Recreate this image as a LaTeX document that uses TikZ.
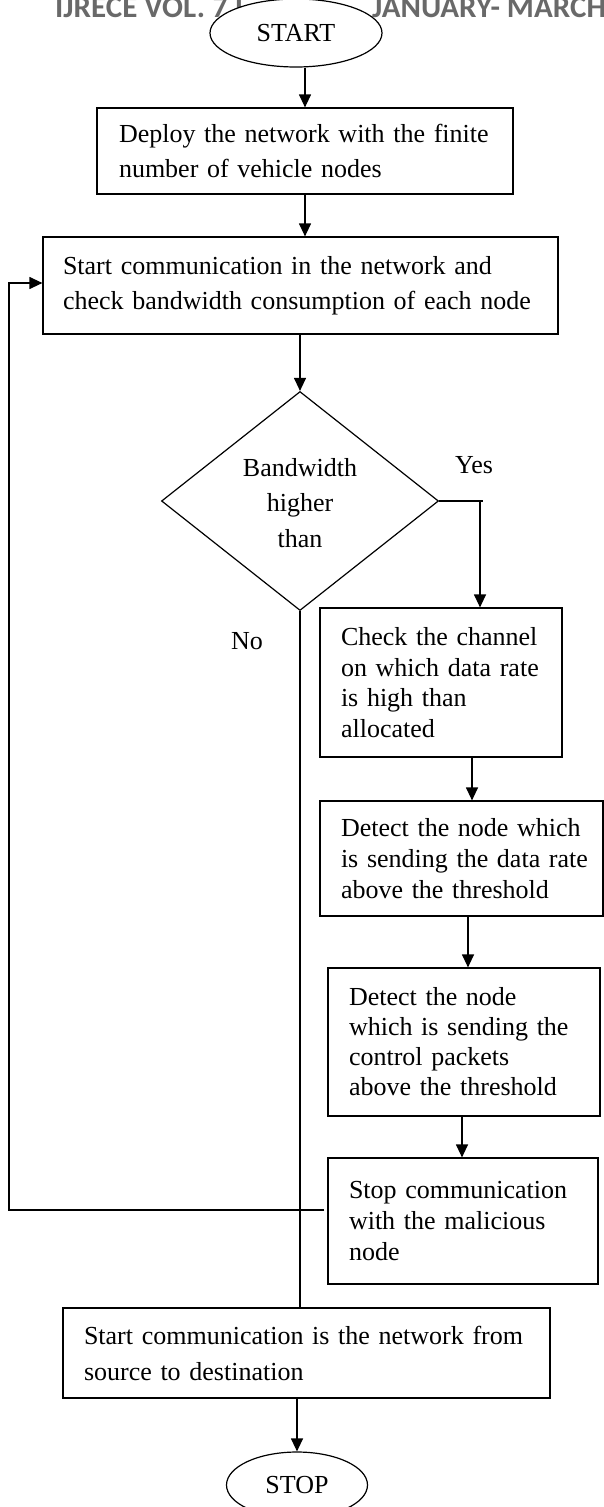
\documentclass[tikz,border=0pt]{standalone}
\usepackage{fontspec}
\setmainfont{Liberation Serif}
\newfontfamily\hdrfont{Carlito}
\usetikzlibrary{shapes.geometric,arrows.meta}
\definecolor{hdrgray}{RGB}{105,105,105}
\begin{document}
\begin{tikzpicture}[x=1pt,y=-1pt,
  every node/.style={font=\fontsize{26}{35.5}\selectfont},
  ln/.style={line width=1.2pt},
  arr/.style={ln,-{Triangle[length=13pt,width=12pt]}},
  box/.style={draw,ln,fill=white,align=left,inner ysep=0pt,inner xsep=21pt},
  tightA/.style={font=\fontsize{26}{30.5}\selectfont},
  tightB/.style={font=\fontsize{26}{31}\selectfont},
  wideB/.style={font=\fontsize{26}{36}\selectfont},
  term/.style={ellipse,draw,ln,fill=white,inner sep=0pt},
  hdr/.style={font=\hdrfont\bfseries\fontsize{31}{31}\selectfont,text=hdrgray,inner sep=0pt,anchor=base west},
  lbl/.style={inner sep=0pt}]
\useasboundingbox (0,0) rectangle (604,1507);
\clip (0,0) rectangle (604,1507);

% page header (partly hidden)
\node[hdr] (hdrl) at (55,17) {IJRECE VOL. 7 I};
\node[hdr] (hdrr) at (372,17) {JANUARY- MARCH};

% nodes
\node[term,minimum width=172pt,minimum height=68pt] (start) at (296,33) {START};
\node[box,inner xsep=22pt,text width=372pt,minimum height=86pt] (b1) at (305,151)
  {\mbox{Deploy the network with the finite}\\\mbox{number of vehicle nodes}};
\node[box,inner xsep=20pt,text width=475pt,minimum height=97pt] (b2) at (300.5,285.5)
  {\mbox{Start communication in the network and}\\\mbox{check bandwidth consumption of each node}};
\node[diamond,draw,ln,minimum width=277pt,minimum height=219pt,inner sep=0pt] (dia) at (300,501) {};
\node[lbl,align=center] (dtext) at (300,503) {Bandwidth\\higher\\than};
\node[box,tightA,text width=200pt,minimum height=149pt] (b3) at (441,682.5)
  {\mbox{Check the channel}\\\mbox{on which data rate}\\\mbox{is high than}\\\mbox{allocated}};
\node[box,tightB,text width=241pt,minimum height=115pt] (b4) at (461.5,858.5)
  {\mbox{Detect the node which}\\\mbox{is sending the data rate}\\\mbox{above the threshold}};
\node[box,font=\fontsize{26}{30}\selectfont,text width=230pt,minimum height=148pt] (b5) at (464,1042)
  {\mbox{Detect the node}\\\mbox{which is sending the}\\\mbox{control packets}\\\mbox{above the threshold}};
\node[box,tightB,text width=228pt,minimum height=126pt] (b6) at (463,1221)
  {\mbox{Stop communication}\\\mbox{with the malicious}\\\mbox{node}};
\node[box,wideB,text width=445pt,minimum height=90pt] (b7) at (306.5,1353)
  {\mbox{Start communication is the network from}\\\mbox{source to destination}};
\node[term,minimum width=141pt,minimum height=66pt] (stop) at (297,1485) {STOP};

% labels
\node[lbl] (yes) at (474,465) {Yes};
\node[lbl] (no) at (247,641) {No};

% helper coordinates
\coordinate (yesend) at (483,501);
\coordinate (ycol) at (480,501);
\coordinate (c34) at (472,0);
\coordinate (c45) at (468,0);
\coordinate (c56) at (462,0);
\coordinate (fbr) at (324,1210);
\coordinate (fbl) at (9,1210);
\coordinate (fbt) at (9,283);

% connectors
\draw[arr] (b1.north |- start.south) -- (b1.north);
\draw[arr] (b1.south) -- (b1.south |- b2.north);
\draw[arr] (dia.north |- b2.south) -- (dia.north);
\draw[ln] (dia.east) -- (yesend);
\draw[arr] (ycol) -- (ycol |- b3.north);
\draw[ln] (dia.south) -- (dia.south |- b7.north);
\draw[arr] (b3.south -| c34) -- (b4.north -| c34);
\draw[arr] (b4.south -| c45) -- (b5.north -| c45);
\draw[arr] (b5.south -| c56) -- (b6.north -| c56);
\draw[arr] (fbr) -- (fbl) -- (fbt) -- (fbt -| b2.west);
\draw[arr] (stop.north |- b7.south) -- (stop.north);
\end{tikzpicture}
\end{document}
